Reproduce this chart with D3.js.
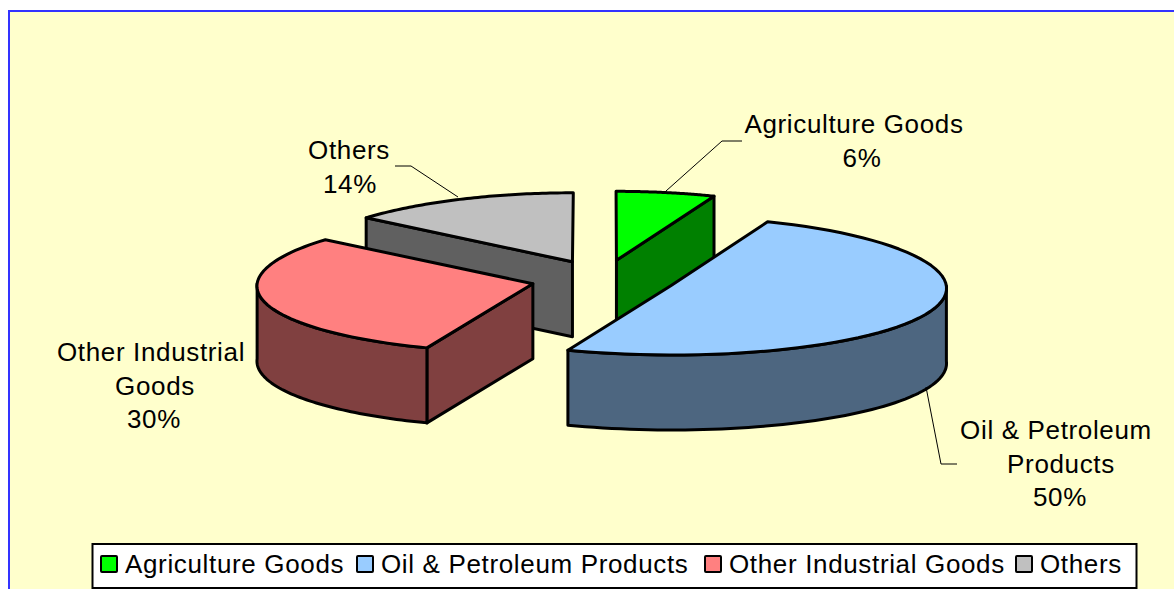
<!DOCTYPE html>
<html>
<head>
<meta charset="utf-8">
<script src="https://cdnjs.cloudflare.com/ajax/libs/d3/7.8.5/d3.min.js"></script>
<style>
  html, body { margin: 0; padding: 0; background: #fff; }
  svg { display: block; }
  text { font-family: "Liberation Sans", Arial, sans-serif; font-size: 26px; letter-spacing: 0.65px; fill: #000; }
</style>
</head>
<body>
<div id="chart"></div>
<script>
const categories = ["Agriculture Goods", "Oil & Petroleum Products", "Other Industrial Goods", "Others"];
const shares = [6, 50, 30, 14];

// wrapped the way the chart labels wrap
const labelLines = [["Agriculture Goods"], ["Oil & Petroleum", "Products"], ["Other Industrial", "Goods"], ["Others"]];

const topColors = ["#00ff00", "#99ccff", "#ff8080", "#c0c0c0"];
const sideColors = ["#008000", "#4d6680", "#804040", "#606060"];

const w = 1174;
const h = 589;
const cx = 603;
const cy = 279;
const rx = 278;
const ry = 69;
const depth = 75;
const explodeX = 73;
const explodeY = 19;
// the far side of the pie is drawn a little narrower than the near side
const widthScale = 0.99;
const perspective = 0.0004;

// centre x of each label line, first baseline y, leader line
const labelLayout = [
  { xs: [854, 862], y: 133, leader: [[742, 141], [722, 141], [666, 191]] },
  { xs: [1056, 1061, 1060], y: 439, leader: [[957, 464], [941, 464], [926, 387]] },
  { xs: [151, 155, 154], y: 361, leader: null },
  { xs: [349, 350], y: 159, leader: [[395, 166], [411, 166], [458, 197]] }
];

const svg = d3.select("#chart").append("svg")
  .attr("width", w)
  .attr("height", h);

svg.append("rect")
  .attr("x", 9).attr("y", 11)
  .attr("width", w + 10).attr("height", h + 10)
  .attr("fill", "#ffffcc")
  .attr("stroke", "#3333ff")
  .attr("stroke-width", 2);

const slices = d3.pie().sort(null).value((d) => d)(shares);

const project = (x, y, drop = 0) =>
  [cx + (x - cx) * (widthScale + perspective * (y - cy)), y + drop];

const centerOf = (s) => {
  const mid = (s.startAngle + s.endAngle) / 2;
  return [cx + explodeX * Math.sin(mid), cy - explodeY * Math.cos(mid)];
};

// screen position of a pie angle, on the tilted ellipse
const onRim = (c, t, drop = 0) =>
  project(c[0] + rx * Math.sin(t), c[1] - ry * Math.cos(t), drop);

const arcPoints = (c, a0, a1, drop = 0) =>
  d3.range(0, 61).map((i) => onRim(c, a0 + (a1 - a0) * i / 60, drop));

const line = d3.line();

// back slices first, the oil slice sits over the green one
const drawOrder = [0, 3, 2, 1];

const pie = svg.append("g")
  .attr("stroke", "#000")
  .attr("stroke-width", 3)
  .attr("stroke-linejoin", "round");

drawOrder.forEach((i) => {
  const s = slices[i];
  const c = centerOf(s);
  const apex = project(c[0], c[1]);
  const g = pie.append("g");

  const face = (t) => {
    const e = onRim(c, t);
    g.append("path")
      .attr("d", line([apex, e, [e[0], e[1] + depth], [apex[0], apex[1] + depth]]) + "Z")
      .attr("fill", sideColors[i]);
  };
  if (Math.sin(s.startAngle) < -1e-6) face(s.startAngle);
  if (Math.sin(s.endAngle) > 1e-6) face(s.endAngle);

  // outer wall, only the part turned to the viewer
  const a0 = Math.max(s.startAngle, Math.PI / 2);
  const a1 = Math.min(s.endAngle, Math.PI * 1.5);
  if (a1 > a0) {
    const pts = arcPoints(c, a0, a1).concat(arcPoints(c, a0, a1, depth).reverse());
    g.append("path").attr("d", line(pts) + "Z").attr("fill", sideColors[i]);
  }

  g.append("path")
    .attr("d", line([apex].concat(arcPoints(c, s.startAngle, s.endAngle))) + "Z")
    .attr("fill", topColors[i]);
});

// data labels
const labels = svg.append("g").attr("text-anchor", "middle");
categories.forEach((cat, i) => {
  const pos = labelLayout[i];
  const lines = labelLines[i].concat([shares[i] + "%"]);
  lines.forEach((t, j) => {
    labels.append("text")
      .attr("x", pos.xs[j])
      .attr("y", pos.y + j * 33.5)
      .text(t);
  });
  if (pos.leader) {
    svg.append("path")
      .attr("d", line(pos.leader))
      .attr("fill", "none")
      .attr("stroke", "#000")
      .attr("stroke-width", 1);
  }
});

// legend
const legend = svg.append("g");
legend.append("rect")
  .attr("x", 92.5).attr("y", 544)
  .attr("width", 1044).attr("height", 44)
  .attr("fill", "#fff")
  .attr("stroke", "#000")
  .attr("stroke-width", 2);

const legendX = [101, 357, 705, 1016];
categories.forEach((cat, i) => {
  legend.append("rect")
    .attr("x", legendX[i]).attr("y", 556)
    .attr("width", 16).attr("height", 16)
    .attr("rx", 1)
    .attr("fill", topColors[i])
    .attr("stroke", "#000")
    .attr("stroke-width", 2);
  legend.append("text")
    .attr("x", legendX[i] + 24)
    .attr("y", 573)
    .text(cat);
});
</script>
</body>
</html>
